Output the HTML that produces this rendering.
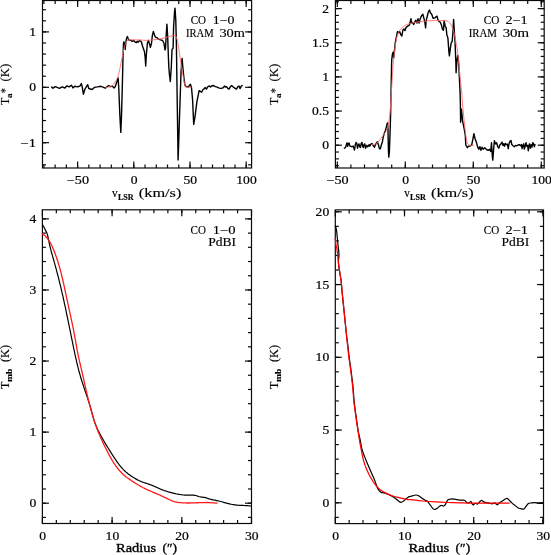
<!DOCTYPE html>
<html><head><meta charset="utf-8"><style>
html,body{margin:0;padding:0;background:#fff;}
body{width:551px;height:555px;overflow:hidden;}
svg{display:block;will-change:transform;font-family:"Liberation Serif",serif;}
</style></head><body>
<svg width="551" height="555" viewBox="0 0 551 555">
<line x1="43.88" y1="168" x2="43.88" y2="164.5" stroke="#0a0a0a" stroke-width="1.2"/>
<line x1="43.88" y1="0.5" x2="43.88" y2="4" stroke="#0a0a0a" stroke-width="1.2"/>
<line x1="55.12" y1="168" x2="55.12" y2="164.5" stroke="#0a0a0a" stroke-width="1.2"/>
<line x1="55.12" y1="0.5" x2="55.12" y2="4" stroke="#0a0a0a" stroke-width="1.2"/>
<line x1="66.36" y1="168" x2="66.36" y2="164.5" stroke="#0a0a0a" stroke-width="1.2"/>
<line x1="66.36" y1="0.5" x2="66.36" y2="4" stroke="#0a0a0a" stroke-width="1.2"/>
<line x1="77.6" y1="168" x2="77.6" y2="164.5" stroke="#0a0a0a" stroke-width="1.2"/>
<line x1="77.6" y1="0.5" x2="77.6" y2="4" stroke="#0a0a0a" stroke-width="1.2"/>
<line x1="88.84" y1="168" x2="88.84" y2="164.5" stroke="#0a0a0a" stroke-width="1.2"/>
<line x1="88.84" y1="0.5" x2="88.84" y2="4" stroke="#0a0a0a" stroke-width="1.2"/>
<line x1="100.08" y1="168" x2="100.08" y2="164.5" stroke="#0a0a0a" stroke-width="1.2"/>
<line x1="100.08" y1="0.5" x2="100.08" y2="4" stroke="#0a0a0a" stroke-width="1.2"/>
<line x1="111.32" y1="168" x2="111.32" y2="164.5" stroke="#0a0a0a" stroke-width="1.2"/>
<line x1="111.32" y1="0.5" x2="111.32" y2="4" stroke="#0a0a0a" stroke-width="1.2"/>
<line x1="122.56" y1="168" x2="122.56" y2="164.5" stroke="#0a0a0a" stroke-width="1.2"/>
<line x1="122.56" y1="0.5" x2="122.56" y2="4" stroke="#0a0a0a" stroke-width="1.2"/>
<line x1="133.8" y1="168" x2="133.8" y2="164.5" stroke="#0a0a0a" stroke-width="1.2"/>
<line x1="133.8" y1="0.5" x2="133.8" y2="4" stroke="#0a0a0a" stroke-width="1.2"/>
<line x1="145.04" y1="168" x2="145.04" y2="164.5" stroke="#0a0a0a" stroke-width="1.2"/>
<line x1="145.04" y1="0.5" x2="145.04" y2="4" stroke="#0a0a0a" stroke-width="1.2"/>
<line x1="156.28" y1="168" x2="156.28" y2="164.5" stroke="#0a0a0a" stroke-width="1.2"/>
<line x1="156.28" y1="0.5" x2="156.28" y2="4" stroke="#0a0a0a" stroke-width="1.2"/>
<line x1="167.52" y1="168" x2="167.52" y2="164.5" stroke="#0a0a0a" stroke-width="1.2"/>
<line x1="167.52" y1="0.5" x2="167.52" y2="4" stroke="#0a0a0a" stroke-width="1.2"/>
<line x1="178.76" y1="168" x2="178.76" y2="164.5" stroke="#0a0a0a" stroke-width="1.2"/>
<line x1="178.76" y1="0.5" x2="178.76" y2="4" stroke="#0a0a0a" stroke-width="1.2"/>
<line x1="190" y1="168" x2="190" y2="164.5" stroke="#0a0a0a" stroke-width="1.2"/>
<line x1="190" y1="0.5" x2="190" y2="4" stroke="#0a0a0a" stroke-width="1.2"/>
<line x1="201.24" y1="168" x2="201.24" y2="164.5" stroke="#0a0a0a" stroke-width="1.2"/>
<line x1="201.24" y1="0.5" x2="201.24" y2="4" stroke="#0a0a0a" stroke-width="1.2"/>
<line x1="212.48" y1="168" x2="212.48" y2="164.5" stroke="#0a0a0a" stroke-width="1.2"/>
<line x1="212.48" y1="0.5" x2="212.48" y2="4" stroke="#0a0a0a" stroke-width="1.2"/>
<line x1="223.72" y1="168" x2="223.72" y2="164.5" stroke="#0a0a0a" stroke-width="1.2"/>
<line x1="223.72" y1="0.5" x2="223.72" y2="4" stroke="#0a0a0a" stroke-width="1.2"/>
<line x1="234.96" y1="168" x2="234.96" y2="164.5" stroke="#0a0a0a" stroke-width="1.2"/>
<line x1="234.96" y1="0.5" x2="234.96" y2="4" stroke="#0a0a0a" stroke-width="1.2"/>
<line x1="246.2" y1="168" x2="246.2" y2="164.5" stroke="#0a0a0a" stroke-width="1.2"/>
<line x1="246.2" y1="0.5" x2="246.2" y2="4" stroke="#0a0a0a" stroke-width="1.2"/>
<line x1="77.6" y1="168" x2="77.6" y2="161.5" stroke="#0a0a0a" stroke-width="1.2"/>
<line x1="77.6" y1="0.5" x2="77.6" y2="7" stroke="#0a0a0a" stroke-width="1.2"/>
<line x1="133.8" y1="168" x2="133.8" y2="161.5" stroke="#0a0a0a" stroke-width="1.2"/>
<line x1="133.8" y1="0.5" x2="133.8" y2="7" stroke="#0a0a0a" stroke-width="1.2"/>
<line x1="190" y1="168" x2="190" y2="161.5" stroke="#0a0a0a" stroke-width="1.2"/>
<line x1="190" y1="0.5" x2="190" y2="7" stroke="#0a0a0a" stroke-width="1.2"/>
<line x1="246.2" y1="168" x2="246.2" y2="161.5" stroke="#0a0a0a" stroke-width="1.2"/>
<line x1="246.2" y1="0.5" x2="246.2" y2="7" stroke="#0a0a0a" stroke-width="1.2"/>
<line x1="42.5" y1="164.86" x2="46" y2="164.86" stroke="#0a0a0a" stroke-width="1.2"/>
<line x1="251.6" y1="164.86" x2="248.1" y2="164.86" stroke="#0a0a0a" stroke-width="1.2"/>
<line x1="42.5" y1="153.78" x2="46" y2="153.78" stroke="#0a0a0a" stroke-width="1.2"/>
<line x1="251.6" y1="153.78" x2="248.1" y2="153.78" stroke="#0a0a0a" stroke-width="1.2"/>
<line x1="42.5" y1="142.7" x2="46" y2="142.7" stroke="#0a0a0a" stroke-width="1.2"/>
<line x1="251.6" y1="142.7" x2="248.1" y2="142.7" stroke="#0a0a0a" stroke-width="1.2"/>
<line x1="42.5" y1="131.62" x2="46" y2="131.62" stroke="#0a0a0a" stroke-width="1.2"/>
<line x1="251.6" y1="131.62" x2="248.1" y2="131.62" stroke="#0a0a0a" stroke-width="1.2"/>
<line x1="42.5" y1="120.54" x2="46" y2="120.54" stroke="#0a0a0a" stroke-width="1.2"/>
<line x1="251.6" y1="120.54" x2="248.1" y2="120.54" stroke="#0a0a0a" stroke-width="1.2"/>
<line x1="42.5" y1="109.46" x2="46" y2="109.46" stroke="#0a0a0a" stroke-width="1.2"/>
<line x1="251.6" y1="109.46" x2="248.1" y2="109.46" stroke="#0a0a0a" stroke-width="1.2"/>
<line x1="42.5" y1="98.38" x2="46" y2="98.38" stroke="#0a0a0a" stroke-width="1.2"/>
<line x1="251.6" y1="98.38" x2="248.1" y2="98.38" stroke="#0a0a0a" stroke-width="1.2"/>
<line x1="42.5" y1="87.3" x2="46" y2="87.3" stroke="#0a0a0a" stroke-width="1.2"/>
<line x1="251.6" y1="87.3" x2="248.1" y2="87.3" stroke="#0a0a0a" stroke-width="1.2"/>
<line x1="42.5" y1="76.22" x2="46" y2="76.22" stroke="#0a0a0a" stroke-width="1.2"/>
<line x1="251.6" y1="76.22" x2="248.1" y2="76.22" stroke="#0a0a0a" stroke-width="1.2"/>
<line x1="42.5" y1="65.14" x2="46" y2="65.14" stroke="#0a0a0a" stroke-width="1.2"/>
<line x1="251.6" y1="65.14" x2="248.1" y2="65.14" stroke="#0a0a0a" stroke-width="1.2"/>
<line x1="42.5" y1="54.06" x2="46" y2="54.06" stroke="#0a0a0a" stroke-width="1.2"/>
<line x1="251.6" y1="54.06" x2="248.1" y2="54.06" stroke="#0a0a0a" stroke-width="1.2"/>
<line x1="42.5" y1="42.98" x2="46" y2="42.98" stroke="#0a0a0a" stroke-width="1.2"/>
<line x1="251.6" y1="42.98" x2="248.1" y2="42.98" stroke="#0a0a0a" stroke-width="1.2"/>
<line x1="42.5" y1="31.9" x2="46" y2="31.9" stroke="#0a0a0a" stroke-width="1.2"/>
<line x1="251.6" y1="31.9" x2="248.1" y2="31.9" stroke="#0a0a0a" stroke-width="1.2"/>
<line x1="42.5" y1="20.82" x2="46" y2="20.82" stroke="#0a0a0a" stroke-width="1.2"/>
<line x1="251.6" y1="20.82" x2="248.1" y2="20.82" stroke="#0a0a0a" stroke-width="1.2"/>
<line x1="42.5" y1="9.74" x2="46" y2="9.74" stroke="#0a0a0a" stroke-width="1.2"/>
<line x1="251.6" y1="9.74" x2="248.1" y2="9.74" stroke="#0a0a0a" stroke-width="1.2"/>
<line x1="42.5" y1="142.7" x2="49" y2="142.7" stroke="#0a0a0a" stroke-width="1.2"/>
<line x1="251.6" y1="142.7" x2="245.1" y2="142.7" stroke="#0a0a0a" stroke-width="1.2"/>
<line x1="42.5" y1="87.3" x2="49" y2="87.3" stroke="#0a0a0a" stroke-width="1.2"/>
<line x1="251.6" y1="87.3" x2="245.1" y2="87.3" stroke="#0a0a0a" stroke-width="1.2"/>
<line x1="42.5" y1="31.9" x2="49" y2="31.9" stroke="#0a0a0a" stroke-width="1.2"/>
<line x1="251.6" y1="31.9" x2="245.1" y2="31.9" stroke="#0a0a0a" stroke-width="1.2"/>
<rect x="42.5" y="0.5" width="209.1" height="167.5" fill="none" stroke="#0a0a0a" stroke-width="1.2"/>
<polyline points="51.6,86.9 52.9,88.3 55.1,86.6 57.2,87.4 59.4,88.3 62.1,86.9 64.9,88 67,85.8 69.2,86.9 71.4,85.2 73,88 74.7,86.3 77.9,86.9 80.1,85.8 81.4,83.6 82.3,87.4 83.4,94.2 85,89 86.6,86.3 87.7,84.7 88.8,88.5 90.5,89 92.1,89.6 94.3,87.4 97.5,86.9 100.8,86.3 101.8,86.7 103.5,87.3 105.3,88.1 107,86.7 108.8,85.5 110.5,86.7 112.3,86.1 114.1,87.9 115.2,86.7 117,81.4 118.1,77.9 118.7,86.7 119.9,116 120.8,132.4 121.5,116 122.3,86.7 122.7,70 123,57 123.5,43.6 124,41.8 124.7,45.4 125.2,49.5 125.9,41.8 126.5,38.6 127.4,36.4 128.3,39.1 129,40 130.9,40.4 132.2,41.3 133.6,40.4 134.9,41.8 136.3,42.7 137.2,41.3 138.1,42.3 139.5,40.4 141.3,41.8 142.6,46.3 144.5,51.8 145.2,58 145.7,66 146.4,54 147.4,43.2 148.4,40.5 149.3,43.2 150.4,47.3 151.5,43.2 152.4,35.1 153.4,31.4 154.5,35.1 155.5,37.2 157.2,37.8 158.5,39.2 160.5,39.9 162.6,40.5 163.9,43.2 165,50 165.5,48.6 166.2,35.1 166.9,24.1 167.6,35.1 168.2,51.4 168.8,67 169.5,75 170.3,81.5 171.3,67 172,49.7 173.1,48.1 173.6,27 174.5,12.2 175,8.1 175.8,20.3 176.4,45 176.9,80 177.5,120 178.1,160 178.8,140 179.4,120 180.1,100 181,72.4 182.1,58.4 182.8,67 183.9,77.8 185,85.4 186.1,86.5 188.2,87 190.4,84.3 191.5,87.6 192.6,100 193.7,124.4 195,116.8 196.9,101.7 198.1,95.9 199.1,90.7 200.7,91.7 201.7,92.2 202.8,89.7 204.3,88.6 205.3,87.6 206.4,89.1 207.9,86.6 209.5,86 210.5,87.1 211.6,86 213.6,85.5 215.2,86.6 217.2,87.1 219.3,88.1 221.4,88.4 223.4,87.6 224.5,86 225.5,87.1 226.6,86.6 227.6,88.1 229.1,89.1 230.2,87.1 231.7,85.5 233.3,87.1 234.8,88.1 236.4,89.1 237.9,86.6 239,86 240,88.6 241,86.6 242.1,85.5" fill="none" stroke="#000" stroke-width="1.4" stroke-linejoin="round" stroke-linecap="round" />
<path d="M105.7,87.3 C105.92,87.3 106,87.5 107,87.3 C108,87.1 110.33,86.98 111.7,86.1 C113.07,85.22 114.43,83.02 115.2,82 C115.97,80.98 115.82,80.97 116.3,80 C116.78,79.03 117.48,78.18 118.1,76.2 C118.72,74.22 119.23,71.72 120,68.1 C120.77,64.48 121.95,58.13 122.7,54.5 C123.45,50.87 123.9,48.42 124.5,46.3 C125.1,44.18 125.7,42.82 126.3,41.8 C126.9,40.78 127.18,40.53 128.1,40.2 C129.02,39.87 129.82,39.83 131.8,39.8 C133.78,39.77 137.8,39.92 140,40 C142.2,40.08 143.03,40.28 145,40.3 C146.97,40.32 149.55,40.28 151.8,40.1 C154.05,39.92 156.25,39.62 158.5,39.2 C160.75,38.78 163.05,38.17 165.3,37.6 C167.55,37.03 170.53,36.17 172,35.8 C173.47,35.43 173.47,35.28 174.1,35.4 C174.73,35.52 175.25,35.65 175.8,36.5 C176.35,37.35 176.85,38.12 177.4,40.5 C177.95,42.88 178.47,46.73 179.1,50.8 C179.73,54.87 180.48,60.4 181.2,64.9 C181.92,69.4 182.77,74.3 183.4,77.8 C184.03,81.3 184.47,84.37 185,85.9 C185.53,87.43 185.6,86.72 186.6,87 C187.6,87.28 190.27,87.5 191,87.6" fill="none" stroke="#ff6a6a" stroke-width="0.9" stroke-linejoin="round" stroke-linecap="round" />
<text x="77.9" y="184.3" font-size="11.8" text-anchor="middle" font-weight="normal" textLength="22.2" lengthAdjust="spacingAndGlyphs" stroke="#000" stroke-width="0.2">&#8722;50</text>
<text x="134.1" y="184.3" font-size="11.8" text-anchor="middle" font-weight="normal" textLength="6.8" lengthAdjust="spacingAndGlyphs" stroke="#000" stroke-width="0.2">0</text>
<text x="190.3" y="184.3" font-size="11.8" text-anchor="middle" font-weight="normal" textLength="13.6" lengthAdjust="spacingAndGlyphs" stroke="#000" stroke-width="0.2">50</text>
<text x="246.5" y="184.3" font-size="11.8" text-anchor="middle" font-weight="normal" textLength="20.4" lengthAdjust="spacingAndGlyphs" stroke="#000" stroke-width="0.2">100</text>
<text x="36" y="36" font-size="11.8" text-anchor="end" font-weight="normal" textLength="6.8" lengthAdjust="spacingAndGlyphs" stroke="#000" stroke-width="0.2">1</text>
<text x="36" y="91.4" font-size="11.8" text-anchor="end" font-weight="normal" textLength="6.8" lengthAdjust="spacingAndGlyphs" stroke="#000" stroke-width="0.2">0</text>
<text x="36" y="146.8" font-size="11.8" text-anchor="end" font-weight="normal" textLength="15.4" lengthAdjust="spacingAndGlyphs" stroke="#000" stroke-width="0.2">&#8722;1</text>
<line x1="337.3" y1="168" x2="337.3" y2="164.5" stroke="#0a0a0a" stroke-width="1.2"/>
<line x1="337.3" y1="0.5" x2="337.3" y2="4" stroke="#0a0a0a" stroke-width="1.2"/>
<line x1="350.9" y1="168" x2="350.9" y2="164.5" stroke="#0a0a0a" stroke-width="1.2"/>
<line x1="350.9" y1="0.5" x2="350.9" y2="4" stroke="#0a0a0a" stroke-width="1.2"/>
<line x1="364.5" y1="168" x2="364.5" y2="164.5" stroke="#0a0a0a" stroke-width="1.2"/>
<line x1="364.5" y1="0.5" x2="364.5" y2="4" stroke="#0a0a0a" stroke-width="1.2"/>
<line x1="378.1" y1="168" x2="378.1" y2="164.5" stroke="#0a0a0a" stroke-width="1.2"/>
<line x1="378.1" y1="0.5" x2="378.1" y2="4" stroke="#0a0a0a" stroke-width="1.2"/>
<line x1="391.7" y1="168" x2="391.7" y2="164.5" stroke="#0a0a0a" stroke-width="1.2"/>
<line x1="391.7" y1="0.5" x2="391.7" y2="4" stroke="#0a0a0a" stroke-width="1.2"/>
<line x1="405.3" y1="168" x2="405.3" y2="164.5" stroke="#0a0a0a" stroke-width="1.2"/>
<line x1="405.3" y1="0.5" x2="405.3" y2="4" stroke="#0a0a0a" stroke-width="1.2"/>
<line x1="418.9" y1="168" x2="418.9" y2="164.5" stroke="#0a0a0a" stroke-width="1.2"/>
<line x1="418.9" y1="0.5" x2="418.9" y2="4" stroke="#0a0a0a" stroke-width="1.2"/>
<line x1="432.5" y1="168" x2="432.5" y2="164.5" stroke="#0a0a0a" stroke-width="1.2"/>
<line x1="432.5" y1="0.5" x2="432.5" y2="4" stroke="#0a0a0a" stroke-width="1.2"/>
<line x1="446.1" y1="168" x2="446.1" y2="164.5" stroke="#0a0a0a" stroke-width="1.2"/>
<line x1="446.1" y1="0.5" x2="446.1" y2="4" stroke="#0a0a0a" stroke-width="1.2"/>
<line x1="459.7" y1="168" x2="459.7" y2="164.5" stroke="#0a0a0a" stroke-width="1.2"/>
<line x1="459.7" y1="0.5" x2="459.7" y2="4" stroke="#0a0a0a" stroke-width="1.2"/>
<line x1="473.3" y1="168" x2="473.3" y2="164.5" stroke="#0a0a0a" stroke-width="1.2"/>
<line x1="473.3" y1="0.5" x2="473.3" y2="4" stroke="#0a0a0a" stroke-width="1.2"/>
<line x1="486.9" y1="168" x2="486.9" y2="164.5" stroke="#0a0a0a" stroke-width="1.2"/>
<line x1="486.9" y1="0.5" x2="486.9" y2="4" stroke="#0a0a0a" stroke-width="1.2"/>
<line x1="500.5" y1="168" x2="500.5" y2="164.5" stroke="#0a0a0a" stroke-width="1.2"/>
<line x1="500.5" y1="0.5" x2="500.5" y2="4" stroke="#0a0a0a" stroke-width="1.2"/>
<line x1="514.1" y1="168" x2="514.1" y2="164.5" stroke="#0a0a0a" stroke-width="1.2"/>
<line x1="514.1" y1="0.5" x2="514.1" y2="4" stroke="#0a0a0a" stroke-width="1.2"/>
<line x1="527.7" y1="168" x2="527.7" y2="164.5" stroke="#0a0a0a" stroke-width="1.2"/>
<line x1="527.7" y1="0.5" x2="527.7" y2="4" stroke="#0a0a0a" stroke-width="1.2"/>
<line x1="541.3" y1="168" x2="541.3" y2="164.5" stroke="#0a0a0a" stroke-width="1.2"/>
<line x1="541.3" y1="0.5" x2="541.3" y2="4" stroke="#0a0a0a" stroke-width="1.2"/>
<line x1="337.3" y1="168" x2="337.3" y2="161.5" stroke="#0a0a0a" stroke-width="1.2"/>
<line x1="337.3" y1="0.5" x2="337.3" y2="7" stroke="#0a0a0a" stroke-width="1.2"/>
<line x1="405.3" y1="168" x2="405.3" y2="161.5" stroke="#0a0a0a" stroke-width="1.2"/>
<line x1="405.3" y1="0.5" x2="405.3" y2="7" stroke="#0a0a0a" stroke-width="1.2"/>
<line x1="473.3" y1="168" x2="473.3" y2="161.5" stroke="#0a0a0a" stroke-width="1.2"/>
<line x1="473.3" y1="0.5" x2="473.3" y2="7" stroke="#0a0a0a" stroke-width="1.2"/>
<line x1="541.3" y1="168" x2="541.3" y2="161.5" stroke="#0a0a0a" stroke-width="1.2"/>
<line x1="541.3" y1="0.5" x2="541.3" y2="7" stroke="#0a0a0a" stroke-width="1.2"/>
<line x1="335.4" y1="165.69" x2="338.9" y2="165.69" stroke="#0a0a0a" stroke-width="1.2"/>
<line x1="544.2" y1="165.69" x2="540.7" y2="165.69" stroke="#0a0a0a" stroke-width="1.2"/>
<line x1="335.4" y1="158.86" x2="338.9" y2="158.86" stroke="#0a0a0a" stroke-width="1.2"/>
<line x1="544.2" y1="158.86" x2="540.7" y2="158.86" stroke="#0a0a0a" stroke-width="1.2"/>
<line x1="335.4" y1="152.03" x2="338.9" y2="152.03" stroke="#0a0a0a" stroke-width="1.2"/>
<line x1="544.2" y1="152.03" x2="540.7" y2="152.03" stroke="#0a0a0a" stroke-width="1.2"/>
<line x1="335.4" y1="145.2" x2="338.9" y2="145.2" stroke="#0a0a0a" stroke-width="1.2"/>
<line x1="544.2" y1="145.2" x2="540.7" y2="145.2" stroke="#0a0a0a" stroke-width="1.2"/>
<line x1="335.4" y1="138.37" x2="338.9" y2="138.37" stroke="#0a0a0a" stroke-width="1.2"/>
<line x1="544.2" y1="138.37" x2="540.7" y2="138.37" stroke="#0a0a0a" stroke-width="1.2"/>
<line x1="335.4" y1="131.54" x2="338.9" y2="131.54" stroke="#0a0a0a" stroke-width="1.2"/>
<line x1="544.2" y1="131.54" x2="540.7" y2="131.54" stroke="#0a0a0a" stroke-width="1.2"/>
<line x1="335.4" y1="124.71" x2="338.9" y2="124.71" stroke="#0a0a0a" stroke-width="1.2"/>
<line x1="544.2" y1="124.71" x2="540.7" y2="124.71" stroke="#0a0a0a" stroke-width="1.2"/>
<line x1="335.4" y1="117.88" x2="338.9" y2="117.88" stroke="#0a0a0a" stroke-width="1.2"/>
<line x1="544.2" y1="117.88" x2="540.7" y2="117.88" stroke="#0a0a0a" stroke-width="1.2"/>
<line x1="335.4" y1="111.05" x2="338.9" y2="111.05" stroke="#0a0a0a" stroke-width="1.2"/>
<line x1="544.2" y1="111.05" x2="540.7" y2="111.05" stroke="#0a0a0a" stroke-width="1.2"/>
<line x1="335.4" y1="104.22" x2="338.9" y2="104.22" stroke="#0a0a0a" stroke-width="1.2"/>
<line x1="544.2" y1="104.22" x2="540.7" y2="104.22" stroke="#0a0a0a" stroke-width="1.2"/>
<line x1="335.4" y1="97.39" x2="338.9" y2="97.39" stroke="#0a0a0a" stroke-width="1.2"/>
<line x1="544.2" y1="97.39" x2="540.7" y2="97.39" stroke="#0a0a0a" stroke-width="1.2"/>
<line x1="335.4" y1="90.56" x2="338.9" y2="90.56" stroke="#0a0a0a" stroke-width="1.2"/>
<line x1="544.2" y1="90.56" x2="540.7" y2="90.56" stroke="#0a0a0a" stroke-width="1.2"/>
<line x1="335.4" y1="83.73" x2="338.9" y2="83.73" stroke="#0a0a0a" stroke-width="1.2"/>
<line x1="544.2" y1="83.73" x2="540.7" y2="83.73" stroke="#0a0a0a" stroke-width="1.2"/>
<line x1="335.4" y1="76.9" x2="338.9" y2="76.9" stroke="#0a0a0a" stroke-width="1.2"/>
<line x1="544.2" y1="76.9" x2="540.7" y2="76.9" stroke="#0a0a0a" stroke-width="1.2"/>
<line x1="335.4" y1="70.07" x2="338.9" y2="70.07" stroke="#0a0a0a" stroke-width="1.2"/>
<line x1="544.2" y1="70.07" x2="540.7" y2="70.07" stroke="#0a0a0a" stroke-width="1.2"/>
<line x1="335.4" y1="63.24" x2="338.9" y2="63.24" stroke="#0a0a0a" stroke-width="1.2"/>
<line x1="544.2" y1="63.24" x2="540.7" y2="63.24" stroke="#0a0a0a" stroke-width="1.2"/>
<line x1="335.4" y1="56.41" x2="338.9" y2="56.41" stroke="#0a0a0a" stroke-width="1.2"/>
<line x1="544.2" y1="56.41" x2="540.7" y2="56.41" stroke="#0a0a0a" stroke-width="1.2"/>
<line x1="335.4" y1="49.58" x2="338.9" y2="49.58" stroke="#0a0a0a" stroke-width="1.2"/>
<line x1="544.2" y1="49.58" x2="540.7" y2="49.58" stroke="#0a0a0a" stroke-width="1.2"/>
<line x1="335.4" y1="42.75" x2="338.9" y2="42.75" stroke="#0a0a0a" stroke-width="1.2"/>
<line x1="544.2" y1="42.75" x2="540.7" y2="42.75" stroke="#0a0a0a" stroke-width="1.2"/>
<line x1="335.4" y1="35.92" x2="338.9" y2="35.92" stroke="#0a0a0a" stroke-width="1.2"/>
<line x1="544.2" y1="35.92" x2="540.7" y2="35.92" stroke="#0a0a0a" stroke-width="1.2"/>
<line x1="335.4" y1="29.09" x2="338.9" y2="29.09" stroke="#0a0a0a" stroke-width="1.2"/>
<line x1="544.2" y1="29.09" x2="540.7" y2="29.09" stroke="#0a0a0a" stroke-width="1.2"/>
<line x1="335.4" y1="22.26" x2="338.9" y2="22.26" stroke="#0a0a0a" stroke-width="1.2"/>
<line x1="544.2" y1="22.26" x2="540.7" y2="22.26" stroke="#0a0a0a" stroke-width="1.2"/>
<line x1="335.4" y1="15.43" x2="338.9" y2="15.43" stroke="#0a0a0a" stroke-width="1.2"/>
<line x1="544.2" y1="15.43" x2="540.7" y2="15.43" stroke="#0a0a0a" stroke-width="1.2"/>
<line x1="335.4" y1="8.6" x2="338.9" y2="8.6" stroke="#0a0a0a" stroke-width="1.2"/>
<line x1="544.2" y1="8.6" x2="540.7" y2="8.6" stroke="#0a0a0a" stroke-width="1.2"/>
<line x1="335.4" y1="1.77" x2="338.9" y2="1.77" stroke="#0a0a0a" stroke-width="1.2"/>
<line x1="544.2" y1="1.77" x2="540.7" y2="1.77" stroke="#0a0a0a" stroke-width="1.2"/>
<line x1="335.4" y1="145.2" x2="341.9" y2="145.2" stroke="#0a0a0a" stroke-width="1.2"/>
<line x1="544.2" y1="145.2" x2="537.7" y2="145.2" stroke="#0a0a0a" stroke-width="1.2"/>
<line x1="335.4" y1="111.05" x2="341.9" y2="111.05" stroke="#0a0a0a" stroke-width="1.2"/>
<line x1="544.2" y1="111.05" x2="537.7" y2="111.05" stroke="#0a0a0a" stroke-width="1.2"/>
<line x1="335.4" y1="76.9" x2="341.9" y2="76.9" stroke="#0a0a0a" stroke-width="1.2"/>
<line x1="544.2" y1="76.9" x2="537.7" y2="76.9" stroke="#0a0a0a" stroke-width="1.2"/>
<line x1="335.4" y1="42.75" x2="341.9" y2="42.75" stroke="#0a0a0a" stroke-width="1.2"/>
<line x1="544.2" y1="42.75" x2="537.7" y2="42.75" stroke="#0a0a0a" stroke-width="1.2"/>
<line x1="335.4" y1="8.6" x2="341.9" y2="8.6" stroke="#0a0a0a" stroke-width="1.2"/>
<line x1="544.2" y1="8.6" x2="537.7" y2="8.6" stroke="#0a0a0a" stroke-width="1.2"/>
<rect x="335.4" y="0.5" width="208.8" height="167.5" fill="none" stroke="#0a0a0a" stroke-width="1.2"/>
<polyline points="344.4,148.2 345.5,147.5 346.3,145 347,142.8 347.7,146.4 348.4,143.5 349.2,143.1 349.9,146.1 351,146.4 352.1,146.8 353.1,146.1 353.9,148.2 354.5,150 355.2,145.3 356.1,142.4 356.8,143.5 357.5,148.2 358.2,145.3 359,143.9 359.7,146.8 360.4,147.5 361.1,143.9 361.9,142.4 362.6,146.1 363.3,147.5 364,144.6 364.8,143.9 365.5,148.2 366.2,146.8 366.9,145.3 367.7,146.8 368.4,146.1 369.1,144.6 369.8,146.1 370.9,144.2 372,143.5 372.9,145.2 374.4,147.2 375.9,143.7 377.4,141.7 378.4,144.7 379.4,148.7 380.4,148.7 381.4,144.7 382.4,141.7 383.3,136.8 384.3,133.3 385.3,130.8 386.3,127.8 387,123.9 387.6,122.9 388,129.8 388.4,149.7 388.8,157.1 389.4,151.6 390,134.8 390.6,115 391.2,83.5 391.7,60 392.4,54.4 393.1,52.2 393.7,57.6 394.2,53.3 395.3,42.5 396.4,37.1 397.4,31.6 398.5,32.7 399.6,31.6 400.7,34.4 401.8,36 402.9,30 403.9,28.9 405,30.6 406.1,27.3 407.7,26.2 409.4,25.2 411,18.7 411.5,23 412.6,22.4 413.7,24.6 414.8,21.9 415.8,20.3 416.9,23 418,18.7 419.1,23 420.2,18.7 421.8,15.4 422.9,14.3 424,18.7 424.8,21.9 425.6,27.9 426.1,20.8 427.2,16.5 428.3,12.2 429.4,10 430.5,13 431.6,14.1 433.2,18.4 434.9,17.9 436,16.8 437,16.2 437.8,19.5 439.2,21.6 440.3,22.2 441.4,24.9 442.4,29.2 443.5,30.3 444.1,20.6 445.2,26 446.2,28.1 446.8,34.6 447.9,37.9 448.9,51.9 449.4,55.8 450.3,48.7 451.1,43.3 452.2,41.1 452.9,32.5 453.6,19.5 454.4,32.5 455.1,43.3 455.8,60.8 456.1,72.7 456.9,60.8 457.8,55.4 458.5,60.8 459.1,71.6 460.1,93.2 460.4,105 460.6,122.3 461.5,109.3 462.6,121.2 464.2,128.8 465.3,135.3 465.8,145 467.4,147.7 468.5,146.1 470.1,146.1 471.7,145 472.8,139.6 473.9,133.6 475,138.5 476.6,142.8 477.7,147.1 478.8,149.3 479.9,146.6 480.9,150.4 482,147.1 483.1,149.3 484.7,147.7 486.3,149.3 488,150.4 489.6,149.3 490.7,151.5 491.5,142.8 492.3,155.8 492.8,160.1 493.7,148.2 494.4,140.7 495.5,143.9 496.6,142.8 497.7,146.6 498.8,148.2 499.8,145 500.9,143.9 502,142.2 502.9,145.4 503.7,143.8 504.5,146.2 505.3,143.4 506.1,144.6 507.4,144.2 508.2,148.7 509,143.8 510,141.3 511,140.5 511.8,144.6 513.1,145.8 514.3,146.7 515.5,145.4 516.7,145.8 518,145 519.2,144.6 520.4,145.8 521.4,144.6 522.1,148.7 522.9,145.4 523.7,143.8 524.3,149.1 525.2,146.2 526,142.6 526.8,146.2 527.6,145.4 528.3,150.7 529,145.4 529.6,143.8 530.4,148.3 531.2,144.6 532,147.1 532.8,142.6 533.7,143.8 534.3,146.7 535,144.6" fill="none" stroke="#000" stroke-width="1.4" stroke-linejoin="round" stroke-linecap="round" />
<path d="M372,144.6 C372.55,144.5 374.3,144.43 375.3,144 C376.3,143.57 377.1,142.92 378,142 C378.9,141.08 379.7,139.8 380.7,138.5 C381.7,137.2 383,135.65 384,134.2 C385,132.75 385.9,131.92 386.7,129.8 C387.5,127.68 388.25,124.33 388.8,121.5 C389.35,118.67 389.6,117.18 390,112.8 C390.4,108.42 390.82,101.07 391.2,95.2 C391.58,89.33 391.95,83.13 392.3,77.6 C392.65,72.07 392.98,65.68 393.3,62 C393.62,58.32 393.87,58.22 394.2,55.5 C394.53,52.78 394.85,48.77 395.3,45.7 C395.75,42.63 396.27,39.45 396.9,37.1 C397.53,34.75 398.2,33.23 399.1,31.6 C400,29.97 401.05,28.47 402.3,27.3 C403.55,26.13 404.97,25.32 406.6,24.6 C408.23,23.88 410.28,23.45 412.1,23 C413.92,22.55 415.7,22.17 417.5,21.9 C419.3,21.63 421.1,21.58 422.9,21.4 C424.7,21.22 426.42,20.95 428.3,20.8 C430.18,20.65 432.12,20.53 434.2,20.5 C436.28,20.47 438.97,20.58 440.8,20.6 C442.63,20.62 443.93,20.43 445.2,20.6 C446.47,20.77 447.42,20.88 448.4,21.6 C449.38,22.32 450.28,23.45 451.1,24.9 C451.92,26.35 452.67,28.32 453.3,30.3 C453.93,32.28 454.37,34.27 454.9,36.8 C455.43,39.33 456.08,43.3 456.5,45.5 C456.92,47.7 457.07,47.45 457.4,50 C457.73,52.55 458.05,56.3 458.5,60.8 C458.95,65.3 459.55,71.6 460.1,77 C460.65,82.4 461.38,88.53 461.8,93.2 C462.22,97.87 462.2,100.33 462.6,105 C463,109.67 463.67,116.15 464.2,121.2 C464.73,126.25 465.27,131.7 465.8,135.3 C466.33,138.9 466.77,141.18 467.4,142.8 C468.03,144.42 468.6,144.55 469.6,145 C470.6,145.45 472.77,145.42 473.4,145.5" fill="none" stroke="#ff6a6a" stroke-width="0.9" stroke-linejoin="round" stroke-linecap="round" />
<text x="337.6" y="184.3" font-size="11.8" text-anchor="middle" font-weight="normal" textLength="22.2" lengthAdjust="spacingAndGlyphs" stroke="#000" stroke-width="0.2">&#8722;50</text>
<text x="405.6" y="184.3" font-size="11.8" text-anchor="middle" font-weight="normal" textLength="6.8" lengthAdjust="spacingAndGlyphs" stroke="#000" stroke-width="0.2">0</text>
<text x="473.6" y="184.3" font-size="11.8" text-anchor="middle" font-weight="normal" textLength="13.6" lengthAdjust="spacingAndGlyphs" stroke="#000" stroke-width="0.2">50</text>
<text x="541.6" y="184.3" font-size="11.8" text-anchor="middle" font-weight="normal" textLength="20.4" lengthAdjust="spacingAndGlyphs" stroke="#000" stroke-width="0.2">100</text>
<text x="329" y="12.7" font-size="11.8" text-anchor="end" font-weight="normal" textLength="6.8" lengthAdjust="spacingAndGlyphs" stroke="#000" stroke-width="0.2">2</text>
<text x="329" y="46.85" font-size="11.8" text-anchor="end" font-weight="normal" textLength="17" lengthAdjust="spacingAndGlyphs" stroke="#000" stroke-width="0.2">1.5</text>
<text x="329" y="81" font-size="11.8" text-anchor="end" font-weight="normal" textLength="6.8" lengthAdjust="spacingAndGlyphs" stroke="#000" stroke-width="0.2">1</text>
<text x="329" y="115.15" font-size="11.8" text-anchor="end" font-weight="normal" textLength="17" lengthAdjust="spacingAndGlyphs" stroke="#000" stroke-width="0.2">0.5</text>
<text x="329" y="149.3" font-size="11.8" text-anchor="end" font-weight="normal" textLength="6.8" lengthAdjust="spacingAndGlyphs" stroke="#000" stroke-width="0.2">0</text>
<line x1="56.34" y1="523.5" x2="56.34" y2="520" stroke="#0a0a0a" stroke-width="1.2"/>
<line x1="56.34" y1="209.8" x2="56.34" y2="213.3" stroke="#0a0a0a" stroke-width="1.2"/>
<line x1="70.28" y1="523.5" x2="70.28" y2="520" stroke="#0a0a0a" stroke-width="1.2"/>
<line x1="70.28" y1="209.8" x2="70.28" y2="213.3" stroke="#0a0a0a" stroke-width="1.2"/>
<line x1="84.22" y1="523.5" x2="84.22" y2="520" stroke="#0a0a0a" stroke-width="1.2"/>
<line x1="84.22" y1="209.8" x2="84.22" y2="213.3" stroke="#0a0a0a" stroke-width="1.2"/>
<line x1="98.16" y1="523.5" x2="98.16" y2="520" stroke="#0a0a0a" stroke-width="1.2"/>
<line x1="98.16" y1="209.8" x2="98.16" y2="213.3" stroke="#0a0a0a" stroke-width="1.2"/>
<line x1="112.1" y1="523.5" x2="112.1" y2="520" stroke="#0a0a0a" stroke-width="1.2"/>
<line x1="112.1" y1="209.8" x2="112.1" y2="213.3" stroke="#0a0a0a" stroke-width="1.2"/>
<line x1="126.04" y1="523.5" x2="126.04" y2="520" stroke="#0a0a0a" stroke-width="1.2"/>
<line x1="126.04" y1="209.8" x2="126.04" y2="213.3" stroke="#0a0a0a" stroke-width="1.2"/>
<line x1="139.98" y1="523.5" x2="139.98" y2="520" stroke="#0a0a0a" stroke-width="1.2"/>
<line x1="139.98" y1="209.8" x2="139.98" y2="213.3" stroke="#0a0a0a" stroke-width="1.2"/>
<line x1="153.92" y1="523.5" x2="153.92" y2="520" stroke="#0a0a0a" stroke-width="1.2"/>
<line x1="153.92" y1="209.8" x2="153.92" y2="213.3" stroke="#0a0a0a" stroke-width="1.2"/>
<line x1="167.86" y1="523.5" x2="167.86" y2="520" stroke="#0a0a0a" stroke-width="1.2"/>
<line x1="167.86" y1="209.8" x2="167.86" y2="213.3" stroke="#0a0a0a" stroke-width="1.2"/>
<line x1="181.8" y1="523.5" x2="181.8" y2="520" stroke="#0a0a0a" stroke-width="1.2"/>
<line x1="181.8" y1="209.8" x2="181.8" y2="213.3" stroke="#0a0a0a" stroke-width="1.2"/>
<line x1="195.74" y1="523.5" x2="195.74" y2="520" stroke="#0a0a0a" stroke-width="1.2"/>
<line x1="195.74" y1="209.8" x2="195.74" y2="213.3" stroke="#0a0a0a" stroke-width="1.2"/>
<line x1="209.68" y1="523.5" x2="209.68" y2="520" stroke="#0a0a0a" stroke-width="1.2"/>
<line x1="209.68" y1="209.8" x2="209.68" y2="213.3" stroke="#0a0a0a" stroke-width="1.2"/>
<line x1="223.62" y1="523.5" x2="223.62" y2="520" stroke="#0a0a0a" stroke-width="1.2"/>
<line x1="223.62" y1="209.8" x2="223.62" y2="213.3" stroke="#0a0a0a" stroke-width="1.2"/>
<line x1="237.56" y1="523.5" x2="237.56" y2="520" stroke="#0a0a0a" stroke-width="1.2"/>
<line x1="237.56" y1="209.8" x2="237.56" y2="213.3" stroke="#0a0a0a" stroke-width="1.2"/>
<line x1="42.4" y1="523.5" x2="42.4" y2="517" stroke="#0a0a0a" stroke-width="1.2"/>
<line x1="42.4" y1="209.8" x2="42.4" y2="216.3" stroke="#0a0a0a" stroke-width="1.2"/>
<line x1="112.1" y1="523.5" x2="112.1" y2="517" stroke="#0a0a0a" stroke-width="1.2"/>
<line x1="112.1" y1="209.8" x2="112.1" y2="216.3" stroke="#0a0a0a" stroke-width="1.2"/>
<line x1="181.8" y1="523.5" x2="181.8" y2="517" stroke="#0a0a0a" stroke-width="1.2"/>
<line x1="181.8" y1="209.8" x2="181.8" y2="216.3" stroke="#0a0a0a" stroke-width="1.2"/>
<line x1="251.5" y1="523.5" x2="251.5" y2="517" stroke="#0a0a0a" stroke-width="1.2"/>
<line x1="251.5" y1="209.8" x2="251.5" y2="216.3" stroke="#0a0a0a" stroke-width="1.2"/>
<line x1="42.4" y1="517.42" x2="45.9" y2="517.42" stroke="#0a0a0a" stroke-width="1.2"/>
<line x1="251.5" y1="517.42" x2="248" y2="517.42" stroke="#0a0a0a" stroke-width="1.2"/>
<line x1="42.4" y1="503.2" x2="45.9" y2="503.2" stroke="#0a0a0a" stroke-width="1.2"/>
<line x1="251.5" y1="503.2" x2="248" y2="503.2" stroke="#0a0a0a" stroke-width="1.2"/>
<line x1="42.4" y1="488.98" x2="45.9" y2="488.98" stroke="#0a0a0a" stroke-width="1.2"/>
<line x1="251.5" y1="488.98" x2="248" y2="488.98" stroke="#0a0a0a" stroke-width="1.2"/>
<line x1="42.4" y1="474.77" x2="45.9" y2="474.77" stroke="#0a0a0a" stroke-width="1.2"/>
<line x1="251.5" y1="474.77" x2="248" y2="474.77" stroke="#0a0a0a" stroke-width="1.2"/>
<line x1="42.4" y1="460.55" x2="45.9" y2="460.55" stroke="#0a0a0a" stroke-width="1.2"/>
<line x1="251.5" y1="460.55" x2="248" y2="460.55" stroke="#0a0a0a" stroke-width="1.2"/>
<line x1="42.4" y1="446.34" x2="45.9" y2="446.34" stroke="#0a0a0a" stroke-width="1.2"/>
<line x1="251.5" y1="446.34" x2="248" y2="446.34" stroke="#0a0a0a" stroke-width="1.2"/>
<line x1="42.4" y1="432.12" x2="45.9" y2="432.12" stroke="#0a0a0a" stroke-width="1.2"/>
<line x1="251.5" y1="432.12" x2="248" y2="432.12" stroke="#0a0a0a" stroke-width="1.2"/>
<line x1="42.4" y1="417.9" x2="45.9" y2="417.9" stroke="#0a0a0a" stroke-width="1.2"/>
<line x1="251.5" y1="417.9" x2="248" y2="417.9" stroke="#0a0a0a" stroke-width="1.2"/>
<line x1="42.4" y1="403.69" x2="45.9" y2="403.69" stroke="#0a0a0a" stroke-width="1.2"/>
<line x1="251.5" y1="403.69" x2="248" y2="403.69" stroke="#0a0a0a" stroke-width="1.2"/>
<line x1="42.4" y1="389.47" x2="45.9" y2="389.47" stroke="#0a0a0a" stroke-width="1.2"/>
<line x1="251.5" y1="389.47" x2="248" y2="389.47" stroke="#0a0a0a" stroke-width="1.2"/>
<line x1="42.4" y1="375.26" x2="45.9" y2="375.26" stroke="#0a0a0a" stroke-width="1.2"/>
<line x1="251.5" y1="375.26" x2="248" y2="375.26" stroke="#0a0a0a" stroke-width="1.2"/>
<line x1="42.4" y1="361.04" x2="45.9" y2="361.04" stroke="#0a0a0a" stroke-width="1.2"/>
<line x1="251.5" y1="361.04" x2="248" y2="361.04" stroke="#0a0a0a" stroke-width="1.2"/>
<line x1="42.4" y1="346.82" x2="45.9" y2="346.82" stroke="#0a0a0a" stroke-width="1.2"/>
<line x1="251.5" y1="346.82" x2="248" y2="346.82" stroke="#0a0a0a" stroke-width="1.2"/>
<line x1="42.4" y1="332.61" x2="45.9" y2="332.61" stroke="#0a0a0a" stroke-width="1.2"/>
<line x1="251.5" y1="332.61" x2="248" y2="332.61" stroke="#0a0a0a" stroke-width="1.2"/>
<line x1="42.4" y1="318.39" x2="45.9" y2="318.39" stroke="#0a0a0a" stroke-width="1.2"/>
<line x1="251.5" y1="318.39" x2="248" y2="318.39" stroke="#0a0a0a" stroke-width="1.2"/>
<line x1="42.4" y1="304.18" x2="45.9" y2="304.18" stroke="#0a0a0a" stroke-width="1.2"/>
<line x1="251.5" y1="304.18" x2="248" y2="304.18" stroke="#0a0a0a" stroke-width="1.2"/>
<line x1="42.4" y1="289.96" x2="45.9" y2="289.96" stroke="#0a0a0a" stroke-width="1.2"/>
<line x1="251.5" y1="289.96" x2="248" y2="289.96" stroke="#0a0a0a" stroke-width="1.2"/>
<line x1="42.4" y1="275.74" x2="45.9" y2="275.74" stroke="#0a0a0a" stroke-width="1.2"/>
<line x1="251.5" y1="275.74" x2="248" y2="275.74" stroke="#0a0a0a" stroke-width="1.2"/>
<line x1="42.4" y1="261.53" x2="45.9" y2="261.53" stroke="#0a0a0a" stroke-width="1.2"/>
<line x1="251.5" y1="261.53" x2="248" y2="261.53" stroke="#0a0a0a" stroke-width="1.2"/>
<line x1="42.4" y1="247.31" x2="45.9" y2="247.31" stroke="#0a0a0a" stroke-width="1.2"/>
<line x1="251.5" y1="247.31" x2="248" y2="247.31" stroke="#0a0a0a" stroke-width="1.2"/>
<line x1="42.4" y1="233.1" x2="45.9" y2="233.1" stroke="#0a0a0a" stroke-width="1.2"/>
<line x1="251.5" y1="233.1" x2="248" y2="233.1" stroke="#0a0a0a" stroke-width="1.2"/>
<line x1="42.4" y1="218.88" x2="45.9" y2="218.88" stroke="#0a0a0a" stroke-width="1.2"/>
<line x1="251.5" y1="218.88" x2="248" y2="218.88" stroke="#0a0a0a" stroke-width="1.2"/>
<line x1="42.4" y1="503.2" x2="48.9" y2="503.2" stroke="#0a0a0a" stroke-width="1.2"/>
<line x1="251.5" y1="503.2" x2="245" y2="503.2" stroke="#0a0a0a" stroke-width="1.2"/>
<line x1="42.4" y1="432.12" x2="48.9" y2="432.12" stroke="#0a0a0a" stroke-width="1.2"/>
<line x1="251.5" y1="432.12" x2="245" y2="432.12" stroke="#0a0a0a" stroke-width="1.2"/>
<line x1="42.4" y1="361.04" x2="48.9" y2="361.04" stroke="#0a0a0a" stroke-width="1.2"/>
<line x1="251.5" y1="361.04" x2="245" y2="361.04" stroke="#0a0a0a" stroke-width="1.2"/>
<line x1="42.4" y1="289.96" x2="48.9" y2="289.96" stroke="#0a0a0a" stroke-width="1.2"/>
<line x1="251.5" y1="289.96" x2="245" y2="289.96" stroke="#0a0a0a" stroke-width="1.2"/>
<line x1="42.4" y1="218.88" x2="48.9" y2="218.88" stroke="#0a0a0a" stroke-width="1.2"/>
<line x1="251.5" y1="218.88" x2="245" y2="218.88" stroke="#0a0a0a" stroke-width="1.2"/>
<rect x="42.4" y="209.8" width="209.1" height="313.7" fill="none" stroke="#0a0a0a" stroke-width="1.2"/>
<polyline points="42.6,224.8 44,227.2 45.3,229.9 46.7,232.6 47.5,234.8 48.3,238.5 48.51,239.58 48.69,240.54 48.88,241.49 49.08,242.45 49.28,243.4 49.5,244.36 49.72,245.32 49.95,246.28 50.18,247.23 50.42,248.19 50.67,249.15 50.92,250.11 51.17,251.07 51.43,252.04 51.69,253 51.96,253.96 52.22,254.92 52.49,255.89 52.76,256.85 53.04,257.81 53.31,258.78 53.59,259.74 53.86,260.71 54.13,261.68 54.41,262.64 54.68,263.61 54.95,264.58 55.22,265.55 55.48,266.51 55.75,267.48 56.01,268.45 56.27,269.42 56.53,270.39 56.79,271.36 57.05,272.33 57.3,273.3 57.56,274.27 57.81,275.25 58.06,276.22 58.31,277.19 58.55,278.16 58.8,279.14 59.04,280.11 59.28,281.08 59.52,282.06 59.76,283.03 60,284.01 60.24,284.98 60.47,285.96 60.71,286.93 60.94,287.91 61.17,288.88 61.4,289.86 61.63,290.83 61.85,291.81 62.08,292.79 62.3,293.76 62.53,294.74 62.75,295.72 62.97,296.69 63.19,297.67 63.41,298.65 63.62,299.63 63.84,300.6 64.06,301.58 64.27,302.56 64.48,303.54 64.7,304.52 64.91,305.49 65.12,306.47 65.33,307.45 65.54,308.43 65.74,309.41 65.95,310.39 66.16,311.36 66.36,312.34 66.57,313.32 66.77,314.3 66.97,315.28 67.18,316.26 67.38,317.24 67.58,318.21 67.78,319.19 67.98,320.17 68.18,321.15 68.38,322.13 68.58,323.11 68.78,324.08 68.98,325.06 69.18,326.04 69.38,327.02 69.58,328 69.77,328.97 69.97,329.95 70.17,330.93 70.37,331.91 70.57,332.88 70.76,333.86 70.96,334.84 71.16,335.81 71.36,336.79 71.55,337.77 71.75,338.74 71.95,339.72 72.15,340.7 72.35,341.67 72.55,342.65 72.74,343.62 72.94,344.6 73.14,345.57 73.34,346.55 73.54,347.52 73.75,348.49 73.95,349.47 74.15,350.44 74.36,351.41 74.56,352.38 74.77,353.36 74.98,354.33 75.19,355.3 75.4,356.27 75.62,357.24 75.83,358.21 76.05,359.18 76.27,360.15 76.49,361.12 76.72,362.09 76.95,363.06 77.18,364.03 77.41,365 77.65,365.96 77.89,366.93 78.14,367.9 78.38,368.86 78.63,369.83 78.89,370.79 79.15,371.76 79.41,372.72 79.68,373.69 79.95,374.65 80.23,375.61 80.51,376.57 80.79,377.54 81.08,378.5 81.37,379.46 81.67,380.42 81.98,381.38 82.28,382.34 82.59,383.3 82.9,384.25 83.22,385.21 83.53,386.17 83.85,387.13 84.17,388.08 84.49,389.04 84.81,390 85.13,390.95 85.46,391.91 85.78,392.86 86.1,393.82 86.42,394.77 86.75,395.73 87.07,396.68 87.38,397.64 87.7,398.59 88.01,399.54 88.32,400.5 88.63,401.45 88.94,402.4 89.24,403.36 89.54,404.31 89.83,405.26 90.12,406.22 90.41,407.17 90.69,408.13 90.96,409.08 91.23,410.03 91.49,410.99 91.75,411.94 92,412.89 92.25,413.85 92.5,414.8 92.75,415.75 93.01,416.7 93.27,417.65 93.54,418.6 93.82,419.55 94.11,420.49 94.41,421.44 94.74,422.38 95.07,423.32 95.42,424.25 95.79,425.18 96.17,426.11 96.56,427.04 96.96,427.96 97.38,428.88 97.82,429.8 98.26,430.71 98.72,431.61 99.18,432.52 99.65,433.41 100.13,434.31 100.61,435.19 101.09,436.08 101.57,436.95 102.06,437.82 102.55,438.69 103.04,439.56 103.54,440.42 104.03,441.28 104.54,442.13 105.04,442.98 105.54,443.83 106.05,444.68 106.56,445.52 107.08,446.37 107.6,447.21 108.12,448.05 108.64,448.89 109.17,449.73 109.69,450.57 110.23,451.41 110.76,452.25 111.3,453.09 111.84,453.94 112.38,454.78 112.93,455.63 113.48,456.48 114.03,457.33 114.59,458.17 115.15,459.02 115.72,459.87 116.29,460.71 116.87,461.55 117.45,462.38 118.05,463.2 118.65,464.02 119.26,464.83 119.88,465.62 120.52,466.41 121.16,467.18 121.81,467.93 122.48,468.67 123.15,469.4 123.84,470.1 124.55,470.79 125.27,471.46 126,472.11 126.75,472.73 127.51,473.34 128.28,473.94 129.07,474.52 129.87,475.09 130.68,475.65 131.5,476.21 132.34,476.75 133.18,477.3 134.03,477.83 134.89,478.36 135.76,478.88 136.64,479.38 137.53,479.86 138.42,480.32 139.32,480.75 140.23,481.15 141.14,481.53 142.06,481.89 142.98,482.22 143.9,482.55 144.83,482.86 145.77,483.17 146.7,483.47 147.64,483.77 148.58,484.09 149.52,484.41 150.46,484.74 151.4,485.09 152.34,485.47 153.28,485.86 154.22,486.27 155.16,486.69 156.1,487.12 157.04,487.55 157.98,487.97 158.92,488.39 159.86,488.8 160.8,489.2 161.74,489.58 162.69,489.94 163.63,490.28 164.57,490.62 165.51,490.93 166.46,491.24 167.41,491.53 168.35,491.82 169.3,492.09 170.25,492.36 171.2,492.62 172.15,492.87 173.11,493.12 174.06,493.35 175.02,493.57 175.98,493.79 176.94,493.98 177.91,494.17 178.87,494.34 179.84,494.5 180.81,494.65 181.78,494.77 182.76,494.89 183.74,494.98 184.72,495.06 185.7,495.12 186.68,495.16 187.67,495.18 188.66,495.2 189.65,495.19 190.64,495.18 191.63,495.17 192.62,495.17 193.61,495.22 194.61,495.33 195.6,495.51 196.59,495.79 197.57,496.12 198.56,496.46 199.55,496.74 200.53,496.94 201.51,497.07 202.49,497.18 203.46,497.29 204.43,497.44 205.4,497.66 206.36,497.94 207.32,498.26 208.28,498.59 209.23,498.9 210.19,499.17 211.14,499.4 212.09,499.61 213.04,499.8 213.99,499.99 214.95,500.18 215.9,500.37 216.85,500.58 217.81,500.79 218.77,501.02 219.73,501.26 220.7,501.51 221.66,501.77 222.63,502.03 223.6,502.3 224.57,502.57 225.54,502.83 226.52,503.09 227.5,503.35 228.48,503.6 229.46,503.84 230.44,504.06 231.42,504.28 232.4,504.47 233.39,504.65 234.38,504.81 235.37,504.94 236.36,505.06 237.35,505.15 238.34,505.23 239.33,505.29 240.33,505.34 241.32,505.39 242.32,505.43 243.31,505.47 244.31,505.51 245.31,505.56 246.31,505.61 247.31,505.68 248.31,505.76 249.31,505.86 250.31,505.98 251.31,506.13" fill="none" stroke="#000" stroke-width="1.2" stroke-linejoin="round" stroke-linecap="round" />
<polyline points="42.45,233.67 43.26,234.28 44.04,234.91 44.78,235.57 45.48,236.26 46.15,236.97 46.8,237.7 47.41,238.46 48,239.24 48.56,240.04 49.1,240.85 49.63,241.69 50.13,242.54 50.61,243.4 51.08,244.28 51.54,245.17 51.98,246.08 52.4,246.99 52.82,247.91 53.22,248.84 53.61,249.77 53.99,250.71 54.36,251.66 54.72,252.6 55.08,253.55 55.43,254.5 55.77,255.44 56.11,256.39 56.43,257.34 56.76,258.29 57.08,259.25 57.39,260.2 57.69,261.15 57.99,262.1 58.29,263.06 58.58,264.01 58.86,264.97 59.14,265.93 59.41,266.88 59.68,267.84 59.95,268.8 60.21,269.76 60.47,270.72 60.72,271.68 60.97,272.64 61.22,273.6 61.46,274.56 61.7,275.53 61.93,276.49 62.17,277.46 62.4,278.42 62.62,279.39 62.85,280.35 63.07,281.32 63.29,282.29 63.51,283.25 63.73,284.22 63.94,285.19 64.15,286.16 64.36,287.13 64.57,288.1 64.78,289.07 64.99,290.04 65.2,291.01 65.41,291.98 65.61,292.96 65.82,293.93 66.02,294.9 66.23,295.88 66.44,296.85 66.64,297.83 66.85,298.8 67.06,299.78 67.27,300.75 67.48,301.73 67.69,302.7 67.9,303.68 68.11,304.66 68.32,305.63 68.54,306.61 68.75,307.59 68.96,308.57 69.18,309.55 69.39,310.53 69.61,311.51 69.82,312.48 70.04,313.46 70.25,314.44 70.46,315.42 70.68,316.4 70.89,317.38 71.1,318.37 71.31,319.35 71.52,320.33 71.73,321.31 71.93,322.29 72.14,323.27 72.35,324.25 72.55,325.23 72.75,326.22 72.95,327.2 73.15,328.18 73.35,329.16 73.54,330.14 73.73,331.13 73.92,332.11 74.11,333.09 74.3,334.07 74.48,335.06 74.66,336.04 74.84,337.02 75.02,338 75.19,338.99 75.37,339.97 75.54,340.95 75.71,341.93 75.88,342.92 76.05,343.9 76.22,344.88 76.4,345.86 76.57,346.84 76.75,347.83 76.93,348.81 77.11,349.79 77.29,350.77 77.48,351.75 77.67,352.73 77.87,353.72 78.06,354.7 78.27,355.68 78.48,356.66 78.69,357.64 78.91,358.62 79.13,359.6 79.36,360.58 79.58,361.56 79.81,362.54 80.04,363.52 80.27,364.5 80.5,365.47 80.73,366.45 80.96,367.43 81.19,368.41 81.41,369.39 81.64,370.36 81.86,371.34 82.08,372.32 82.31,373.29 82.53,374.27 82.75,375.24 82.97,376.22 83.19,377.19 83.41,378.17 83.63,379.14 83.85,380.11 84.07,381.09 84.29,382.06 84.5,383.03 84.72,384 84.94,384.97 85.16,385.94 85.38,386.91 85.6,387.88 85.82,388.85 86.05,389.82 86.27,390.79 86.49,391.76 86.72,392.72 86.94,393.69 87.17,394.66 87.39,395.62 87.62,396.59 87.85,397.55 88.08,398.51 88.32,399.48 88.55,400.44 88.79,401.4 89.03,402.36 89.27,403.32 89.51,404.28 89.76,405.24 90,406.2 90.25,407.16 90.51,408.11 90.76,409.07 91.02,410.03 91.29,410.98 91.55,411.94 91.82,412.89 92.1,413.84 92.37,414.79 92.66,415.74 92.94,416.69 93.23,417.64 93.53,418.59 93.83,419.54 94.13,420.49 94.44,421.43 94.76,422.38 95.08,423.32 95.4,424.27 95.73,425.21 96.07,426.15 96.41,427.09 96.76,428.03 97.12,428.97 97.48,429.91 97.85,430.85 98.22,431.78 98.6,432.72 98.99,433.65 99.38,434.59 99.78,435.52 100.18,436.45 100.59,437.37 101,438.3 101.41,439.22 101.83,440.15 102.26,441.07 102.68,441.98 103.12,442.9 103.55,443.81 103.99,444.72 104.42,445.63 104.87,446.54 105.31,447.44 105.75,448.34 106.2,449.23 106.65,450.12 107.1,451.01 107.55,451.9 108.01,452.78 108.46,453.66 108.92,454.54 109.39,455.41 109.86,456.27 110.34,457.14 110.82,458 111.31,458.85 111.81,459.7 112.31,460.55 112.83,461.39 113.35,462.22 113.89,463.06 114.43,463.88 114.99,464.7 115.56,465.52 116.15,466.33 116.75,467.14 117.36,467.94 117.98,468.73 118.62,469.52 119.28,470.29 119.95,471.06 120.63,471.81 121.32,472.55 122.03,473.28 122.74,473.98 123.47,474.67 124.21,475.33 124.96,475.97 125.72,476.59 126.48,477.18 127.26,477.75 128.04,478.29 128.83,478.83 129.63,479.37 130.44,479.91 131.25,480.45 132.07,481 132.89,481.55 133.72,482.1 134.56,482.64 135.41,483.19 136.26,483.72 137.11,484.26 137.97,484.79 138.84,485.3 139.71,485.81 140.59,486.31 141.48,486.8 142.37,487.27 143.26,487.74 144.16,488.19 145.07,488.63 145.97,489.06 146.88,489.49 147.79,489.9 148.7,490.31 149.61,490.72 150.52,491.12 151.43,491.51 152.34,491.91 153.25,492.29 154.15,492.68 155.05,493.07 155.95,493.45 156.85,493.84 157.75,494.23 158.64,494.62 159.54,495.01 160.43,495.41 161.33,495.81 162.23,496.22 163.13,496.63 164.04,497.05 164.94,497.48 165.85,497.91 166.77,498.36 167.69,498.81 168.62,499.27 169.55,499.73 170.48,500.17 171.42,500.59 172.37,500.98 173.32,501.33 174.27,501.63 175.23,501.89 176.19,502.09 177.15,502.26 178.12,502.41 179.09,502.53 180.07,502.63 181.05,502.72 182.03,502.79 183.01,502.86 184,502.9 184.99,502.94 185.98,502.97 186.97,502.98 187.97,502.99 188.96,502.98 189.96,502.98 190.96,502.96 191.96,502.94 192.97,502.91 193.97,502.88 194.98,502.85 195.98,502.81 196.99,502.77 198,502.73 199,502.7 200.01,502.66 201.02,502.63 202.03,502.6 203.03,502.57 204.04,502.55 205.05,502.53 206.05,502.52 207.05,502.52 208.06,502.53 209.06,502.54 217,503.1" fill="none" stroke="#ff1a1a" stroke-width="1.3" stroke-linejoin="round" stroke-linecap="round" />
<text x="42.7" y="539.8" font-size="11.8" text-anchor="middle" font-weight="normal" textLength="6.8" lengthAdjust="spacingAndGlyphs" stroke="#000" stroke-width="0.2">0</text>
<text x="112.4" y="539.8" font-size="11.8" text-anchor="middle" font-weight="normal" textLength="13.6" lengthAdjust="spacingAndGlyphs" stroke="#000" stroke-width="0.2">10</text>
<text x="182.1" y="539.8" font-size="11.8" text-anchor="middle" font-weight="normal" textLength="13.6" lengthAdjust="spacingAndGlyphs" stroke="#000" stroke-width="0.2">20</text>
<text x="251.8" y="539.8" font-size="11.8" text-anchor="middle" font-weight="normal" textLength="13.6" lengthAdjust="spacingAndGlyphs" stroke="#000" stroke-width="0.2">30</text>
<text x="36.3" y="507.2" font-size="11.8" text-anchor="end" font-weight="normal" textLength="6.8" lengthAdjust="spacingAndGlyphs" stroke="#000" stroke-width="0.2">0</text>
<text x="36.3" y="436.12" font-size="11.8" text-anchor="end" font-weight="normal" textLength="6.8" lengthAdjust="spacingAndGlyphs" stroke="#000" stroke-width="0.2">1</text>
<text x="36.3" y="365.04" font-size="11.8" text-anchor="end" font-weight="normal" textLength="6.8" lengthAdjust="spacingAndGlyphs" stroke="#000" stroke-width="0.2">2</text>
<text x="36.3" y="293.96" font-size="11.8" text-anchor="end" font-weight="normal" textLength="6.8" lengthAdjust="spacingAndGlyphs" stroke="#000" stroke-width="0.2">3</text>
<text x="36.3" y="222.88" font-size="11.8" text-anchor="end" font-weight="normal" textLength="6.8" lengthAdjust="spacingAndGlyphs" stroke="#000" stroke-width="0.2">4</text>
<line x1="349.14" y1="523.6" x2="349.14" y2="520.1" stroke="#0a0a0a" stroke-width="1.2"/>
<line x1="349.14" y1="209.9" x2="349.14" y2="213.4" stroke="#0a0a0a" stroke-width="1.2"/>
<line x1="362.98" y1="523.6" x2="362.98" y2="520.1" stroke="#0a0a0a" stroke-width="1.2"/>
<line x1="362.98" y1="209.9" x2="362.98" y2="213.4" stroke="#0a0a0a" stroke-width="1.2"/>
<line x1="376.82" y1="523.6" x2="376.82" y2="520.1" stroke="#0a0a0a" stroke-width="1.2"/>
<line x1="376.82" y1="209.9" x2="376.82" y2="213.4" stroke="#0a0a0a" stroke-width="1.2"/>
<line x1="390.66" y1="523.6" x2="390.66" y2="520.1" stroke="#0a0a0a" stroke-width="1.2"/>
<line x1="390.66" y1="209.9" x2="390.66" y2="213.4" stroke="#0a0a0a" stroke-width="1.2"/>
<line x1="404.5" y1="523.6" x2="404.5" y2="520.1" stroke="#0a0a0a" stroke-width="1.2"/>
<line x1="404.5" y1="209.9" x2="404.5" y2="213.4" stroke="#0a0a0a" stroke-width="1.2"/>
<line x1="418.34" y1="523.6" x2="418.34" y2="520.1" stroke="#0a0a0a" stroke-width="1.2"/>
<line x1="418.34" y1="209.9" x2="418.34" y2="213.4" stroke="#0a0a0a" stroke-width="1.2"/>
<line x1="432.18" y1="523.6" x2="432.18" y2="520.1" stroke="#0a0a0a" stroke-width="1.2"/>
<line x1="432.18" y1="209.9" x2="432.18" y2="213.4" stroke="#0a0a0a" stroke-width="1.2"/>
<line x1="446.02" y1="523.6" x2="446.02" y2="520.1" stroke="#0a0a0a" stroke-width="1.2"/>
<line x1="446.02" y1="209.9" x2="446.02" y2="213.4" stroke="#0a0a0a" stroke-width="1.2"/>
<line x1="459.86" y1="523.6" x2="459.86" y2="520.1" stroke="#0a0a0a" stroke-width="1.2"/>
<line x1="459.86" y1="209.9" x2="459.86" y2="213.4" stroke="#0a0a0a" stroke-width="1.2"/>
<line x1="473.7" y1="523.6" x2="473.7" y2="520.1" stroke="#0a0a0a" stroke-width="1.2"/>
<line x1="473.7" y1="209.9" x2="473.7" y2="213.4" stroke="#0a0a0a" stroke-width="1.2"/>
<line x1="487.54" y1="523.6" x2="487.54" y2="520.1" stroke="#0a0a0a" stroke-width="1.2"/>
<line x1="487.54" y1="209.9" x2="487.54" y2="213.4" stroke="#0a0a0a" stroke-width="1.2"/>
<line x1="501.38" y1="523.6" x2="501.38" y2="520.1" stroke="#0a0a0a" stroke-width="1.2"/>
<line x1="501.38" y1="209.9" x2="501.38" y2="213.4" stroke="#0a0a0a" stroke-width="1.2"/>
<line x1="515.22" y1="523.6" x2="515.22" y2="520.1" stroke="#0a0a0a" stroke-width="1.2"/>
<line x1="515.22" y1="209.9" x2="515.22" y2="213.4" stroke="#0a0a0a" stroke-width="1.2"/>
<line x1="529.06" y1="523.6" x2="529.06" y2="520.1" stroke="#0a0a0a" stroke-width="1.2"/>
<line x1="529.06" y1="209.9" x2="529.06" y2="213.4" stroke="#0a0a0a" stroke-width="1.2"/>
<line x1="542.9" y1="523.6" x2="542.9" y2="520.1" stroke="#0a0a0a" stroke-width="1.2"/>
<line x1="542.9" y1="209.9" x2="542.9" y2="213.4" stroke="#0a0a0a" stroke-width="1.2"/>
<line x1="335.3" y1="523.6" x2="335.3" y2="517.1" stroke="#0a0a0a" stroke-width="1.2"/>
<line x1="335.3" y1="209.9" x2="335.3" y2="216.4" stroke="#0a0a0a" stroke-width="1.2"/>
<line x1="404.5" y1="523.6" x2="404.5" y2="517.1" stroke="#0a0a0a" stroke-width="1.2"/>
<line x1="404.5" y1="209.9" x2="404.5" y2="216.4" stroke="#0a0a0a" stroke-width="1.2"/>
<line x1="473.7" y1="523.6" x2="473.7" y2="517.1" stroke="#0a0a0a" stroke-width="1.2"/>
<line x1="473.7" y1="209.9" x2="473.7" y2="216.4" stroke="#0a0a0a" stroke-width="1.2"/>
<line x1="542.9" y1="523.6" x2="542.9" y2="517.1" stroke="#0a0a0a" stroke-width="1.2"/>
<line x1="542.9" y1="209.9" x2="542.9" y2="216.4" stroke="#0a0a0a" stroke-width="1.2"/>
<line x1="335.3" y1="517.35" x2="338.8" y2="517.35" stroke="#0a0a0a" stroke-width="1.2"/>
<line x1="543.5" y1="517.35" x2="540" y2="517.35" stroke="#0a0a0a" stroke-width="1.2"/>
<line x1="335.3" y1="502.8" x2="338.8" y2="502.8" stroke="#0a0a0a" stroke-width="1.2"/>
<line x1="543.5" y1="502.8" x2="540" y2="502.8" stroke="#0a0a0a" stroke-width="1.2"/>
<line x1="335.3" y1="488.25" x2="338.8" y2="488.25" stroke="#0a0a0a" stroke-width="1.2"/>
<line x1="543.5" y1="488.25" x2="540" y2="488.25" stroke="#0a0a0a" stroke-width="1.2"/>
<line x1="335.3" y1="473.7" x2="338.8" y2="473.7" stroke="#0a0a0a" stroke-width="1.2"/>
<line x1="543.5" y1="473.7" x2="540" y2="473.7" stroke="#0a0a0a" stroke-width="1.2"/>
<line x1="335.3" y1="459.15" x2="338.8" y2="459.15" stroke="#0a0a0a" stroke-width="1.2"/>
<line x1="543.5" y1="459.15" x2="540" y2="459.15" stroke="#0a0a0a" stroke-width="1.2"/>
<line x1="335.3" y1="444.6" x2="338.8" y2="444.6" stroke="#0a0a0a" stroke-width="1.2"/>
<line x1="543.5" y1="444.6" x2="540" y2="444.6" stroke="#0a0a0a" stroke-width="1.2"/>
<line x1="335.3" y1="430.05" x2="338.8" y2="430.05" stroke="#0a0a0a" stroke-width="1.2"/>
<line x1="543.5" y1="430.05" x2="540" y2="430.05" stroke="#0a0a0a" stroke-width="1.2"/>
<line x1="335.3" y1="415.5" x2="338.8" y2="415.5" stroke="#0a0a0a" stroke-width="1.2"/>
<line x1="543.5" y1="415.5" x2="540" y2="415.5" stroke="#0a0a0a" stroke-width="1.2"/>
<line x1="335.3" y1="400.95" x2="338.8" y2="400.95" stroke="#0a0a0a" stroke-width="1.2"/>
<line x1="543.5" y1="400.95" x2="540" y2="400.95" stroke="#0a0a0a" stroke-width="1.2"/>
<line x1="335.3" y1="386.4" x2="338.8" y2="386.4" stroke="#0a0a0a" stroke-width="1.2"/>
<line x1="543.5" y1="386.4" x2="540" y2="386.4" stroke="#0a0a0a" stroke-width="1.2"/>
<line x1="335.3" y1="371.85" x2="338.8" y2="371.85" stroke="#0a0a0a" stroke-width="1.2"/>
<line x1="543.5" y1="371.85" x2="540" y2="371.85" stroke="#0a0a0a" stroke-width="1.2"/>
<line x1="335.3" y1="357.3" x2="338.8" y2="357.3" stroke="#0a0a0a" stroke-width="1.2"/>
<line x1="543.5" y1="357.3" x2="540" y2="357.3" stroke="#0a0a0a" stroke-width="1.2"/>
<line x1="335.3" y1="342.75" x2="338.8" y2="342.75" stroke="#0a0a0a" stroke-width="1.2"/>
<line x1="543.5" y1="342.75" x2="540" y2="342.75" stroke="#0a0a0a" stroke-width="1.2"/>
<line x1="335.3" y1="328.2" x2="338.8" y2="328.2" stroke="#0a0a0a" stroke-width="1.2"/>
<line x1="543.5" y1="328.2" x2="540" y2="328.2" stroke="#0a0a0a" stroke-width="1.2"/>
<line x1="335.3" y1="313.65" x2="338.8" y2="313.65" stroke="#0a0a0a" stroke-width="1.2"/>
<line x1="543.5" y1="313.65" x2="540" y2="313.65" stroke="#0a0a0a" stroke-width="1.2"/>
<line x1="335.3" y1="299.1" x2="338.8" y2="299.1" stroke="#0a0a0a" stroke-width="1.2"/>
<line x1="543.5" y1="299.1" x2="540" y2="299.1" stroke="#0a0a0a" stroke-width="1.2"/>
<line x1="335.3" y1="284.55" x2="338.8" y2="284.55" stroke="#0a0a0a" stroke-width="1.2"/>
<line x1="543.5" y1="284.55" x2="540" y2="284.55" stroke="#0a0a0a" stroke-width="1.2"/>
<line x1="335.3" y1="270" x2="338.8" y2="270" stroke="#0a0a0a" stroke-width="1.2"/>
<line x1="543.5" y1="270" x2="540" y2="270" stroke="#0a0a0a" stroke-width="1.2"/>
<line x1="335.3" y1="255.45" x2="338.8" y2="255.45" stroke="#0a0a0a" stroke-width="1.2"/>
<line x1="543.5" y1="255.45" x2="540" y2="255.45" stroke="#0a0a0a" stroke-width="1.2"/>
<line x1="335.3" y1="240.9" x2="338.8" y2="240.9" stroke="#0a0a0a" stroke-width="1.2"/>
<line x1="543.5" y1="240.9" x2="540" y2="240.9" stroke="#0a0a0a" stroke-width="1.2"/>
<line x1="335.3" y1="226.35" x2="338.8" y2="226.35" stroke="#0a0a0a" stroke-width="1.2"/>
<line x1="543.5" y1="226.35" x2="540" y2="226.35" stroke="#0a0a0a" stroke-width="1.2"/>
<line x1="335.3" y1="211.8" x2="338.8" y2="211.8" stroke="#0a0a0a" stroke-width="1.2"/>
<line x1="543.5" y1="211.8" x2="540" y2="211.8" stroke="#0a0a0a" stroke-width="1.2"/>
<line x1="335.3" y1="502.8" x2="341.8" y2="502.8" stroke="#0a0a0a" stroke-width="1.2"/>
<line x1="543.5" y1="502.8" x2="537" y2="502.8" stroke="#0a0a0a" stroke-width="1.2"/>
<line x1="335.3" y1="430.05" x2="341.8" y2="430.05" stroke="#0a0a0a" stroke-width="1.2"/>
<line x1="543.5" y1="430.05" x2="537" y2="430.05" stroke="#0a0a0a" stroke-width="1.2"/>
<line x1="335.3" y1="357.3" x2="341.8" y2="357.3" stroke="#0a0a0a" stroke-width="1.2"/>
<line x1="543.5" y1="357.3" x2="537" y2="357.3" stroke="#0a0a0a" stroke-width="1.2"/>
<line x1="335.3" y1="284.55" x2="341.8" y2="284.55" stroke="#0a0a0a" stroke-width="1.2"/>
<line x1="543.5" y1="284.55" x2="537" y2="284.55" stroke="#0a0a0a" stroke-width="1.2"/>
<line x1="335.3" y1="211.8" x2="341.8" y2="211.8" stroke="#0a0a0a" stroke-width="1.2"/>
<line x1="543.5" y1="211.8" x2="537" y2="211.8" stroke="#0a0a0a" stroke-width="1.2"/>
<rect x="335.3" y="209.9" width="208.2" height="313.7" fill="none" stroke="#0a0a0a" stroke-width="1.2"/>
<path d="M335.4,225.8 C335.58,226.52 336.2,228.3 336.5,230.1 C336.8,231.9 337.02,234.78 337.2,236.6 C337.38,238.42 337.42,239.2 337.6,241 C337.78,242.8 338.07,245.07 338.3,247.4 C338.53,249.73 338.98,252.5 339,255 C339.02,257.5 338.28,259.55 338.4,262.4 C338.52,265.25 339.25,269.05 339.7,272.1 C340.15,275.15 340.72,277.58 341.1,280.7 C341.48,283.82 341.67,287.32 342,290.8 C342.33,294.28 342.73,298 343.1,301.6 C343.47,305.2 343.83,308.8 344.2,312.4 C344.57,316 344.92,319.43 345.3,323.2 C345.68,326.97 346.07,331.23 346.5,335 C346.93,338.77 347.47,342.2 347.9,345.8 C348.33,349.4 348.65,353 349.1,356.6 C349.55,360.2 350.12,363.8 350.6,367.4 C351.08,371 351.57,374.6 352,378.2 C352.43,381.8 352.85,385.23 353.2,389 C353.55,392.77 353.73,397.03 354.1,400.8 C354.47,404.57 354.93,408 355.4,411.6 C355.87,415.2 356.37,418.8 356.9,422.4 C357.43,426 358.05,430.27 358.6,433.2 C359.15,436.13 359.65,437.4 360.2,440 C360.75,442.6 361.18,446.07 361.9,448.8 C362.62,451.53 363.55,453.87 364.5,456.4 C365.45,458.93 366.45,461.27 367.6,464 C368.75,466.73 370.13,469.87 371.4,472.8 C372.67,475.73 374.15,478.98 375.2,481.6 C376.25,484.22 376.77,486.72 377.7,488.5 C378.63,490.28 379.75,491.57 380.8,492.3 C381.85,493.03 382.63,492.48 384,492.9 C385.37,493.32 387.32,494.05 389,494.8 C390.68,495.55 392.62,496.45 394.1,497.4 C395.58,498.35 396.75,499.67 397.9,500.5 C399.05,501.33 399.95,502.4 401,502.4 C402.05,502.4 403.05,501.33 404.2,500.5 C405.35,499.67 406.93,498.07 407.9,497.4 C408.87,496.73 409.23,496.75 410,496.5 C410.77,496.25 411.55,496.15 412.5,495.9 C413.45,495.65 414.73,495.07 415.7,495 C416.67,494.93 417.45,495.13 418.3,495.5 C419.15,495.87 419.97,496.6 420.8,497.2 C421.63,497.8 422.57,498.58 423.3,499.1 C424.03,499.62 424.55,499.98 425.2,500.3 C425.85,500.62 426.55,500.47 427.2,501 C427.85,501.53 428.47,502.67 429.1,503.5 C429.73,504.33 430.37,505.15 431,506 C431.63,506.85 432.27,508.02 432.9,508.6 C433.53,509.18 434.07,509.57 434.8,509.5 C435.53,509.43 436.45,508.78 437.3,508.2 C438.15,507.62 439.15,506.47 439.9,506 C440.65,505.53 441.17,505.4 441.8,505.4 C442.43,505.4 443.07,506.22 443.7,506 C444.33,505.78 444.97,505.05 445.6,504.1 C446.23,503.15 446.87,501.1 447.5,500.3 C448.13,499.5 448.67,499.55 449.4,499.3 C450.13,499.05 451.05,498.83 451.9,498.8 C452.75,498.77 453.65,498.95 454.5,499.1 C455.35,499.25 456.17,499.53 457,499.7 C457.83,499.87 458.65,500.03 459.5,500.1 C460.35,500.17 461.25,500.07 462.1,500.1 C462.95,500.13 463.87,499.95 464.6,500.3 C465.33,500.65 465.87,501.73 466.5,502.2 C467.13,502.67 467.87,503.1 468.4,503.1 C468.93,503.1 469.27,502.45 469.7,502.2 C470.13,501.95 470.57,501.28 471,501.6 C471.43,501.92 471.88,503.57 472.3,504.1 C472.72,504.63 473.08,504.9 473.5,504.8 C473.92,504.7 474.37,503.72 474.8,503.5 C475.23,503.28 475.65,503.4 476.1,503.5 C476.55,503.6 476.95,504.32 477.5,504.1 C478.05,503.88 478.75,502.83 479.4,502.2 C480.05,501.57 480.75,500.4 481.4,500.3 C482.05,500.2 482.57,501.22 483.3,501.6 C484.03,501.98 484.85,502.35 485.8,502.6 C486.75,502.85 487.93,502.88 489,503.1 C490.07,503.32 491.25,503.93 492.2,503.9 C493.15,503.87 493.87,502.75 494.7,502.9 C495.53,503.05 496.35,504.85 497.2,504.8 C498.05,504.75 498.83,503.3 499.8,502.6 C500.77,501.9 501.83,501.3 503,500.6 C504.17,499.9 505.75,498.45 506.8,498.4 C507.85,498.35 508.47,499.55 509.3,500.3 C510.13,501.05 510.85,502.05 511.8,502.9 C512.75,503.75 513.93,504.55 515,505.4 C516.07,506.25 517.25,507.47 518.2,508 C519.15,508.53 519.75,508.43 520.7,508.6 C521.65,508.77 523.05,509.32 523.9,509 C524.75,508.68 525.05,507.62 525.8,506.7 C526.55,505.78 527.45,504.13 528.4,503.5 C529.35,502.87 530.45,503.05 531.5,502.9 C532.55,502.75 533.73,502.57 534.7,502.6 C535.67,502.63 536.45,502.95 537.3,503.1 C538.15,503.25 538.85,503.48 539.8,503.5 C540.75,503.52 542.47,503.25 543,503.2" fill="none" stroke="#000" stroke-width="1.2" stroke-linejoin="round" stroke-linecap="round" />
<path d="M335.2,238.8 C335.35,239.88 335.77,243.27 336.1,245.3 C336.43,247.33 336.82,248.15 337.2,251 C337.58,253.85 337.98,258.88 338.4,262.4 C338.82,265.92 339.25,269.05 339.7,272.1 C340.15,275.15 340.72,277.58 341.1,280.7 C341.48,283.82 341.67,287.32 342,290.8 C342.33,294.28 342.73,298 343.1,301.6 C343.47,305.2 343.83,308.8 344.2,312.4 C344.57,316 344.92,319.43 345.3,323.2 C345.68,326.97 346.12,331.23 346.5,335 C346.88,338.77 347.22,342.2 347.6,345.8 C347.98,349.4 348.35,353 348.8,356.6 C349.25,360.2 349.82,363.8 350.3,367.4 C350.78,371 351.27,374.6 351.7,378.2 C352.13,381.8 352.55,385.23 352.9,389 C353.25,392.77 353.42,397.03 353.8,400.8 C354.18,404.57 354.72,408 355.2,411.6 C355.68,415.2 356.17,418.8 356.7,422.4 C357.23,426 357.95,430.27 358.4,433.2 C358.85,436.13 358.92,437.18 359.4,440 C359.88,442.82 360.57,446.53 361.3,450.1 C362.03,453.67 362.85,458.03 363.8,461.4 C364.75,464.77 365.83,467.57 367,470.3 C368.17,473.03 369.43,475.4 370.8,477.8 C372.17,480.2 373.63,482.7 375.2,484.7 C376.77,486.7 378.52,488.43 380.2,489.8 C381.88,491.17 383.4,491.95 385.3,492.9 C387.2,493.85 389.5,494.75 391.6,495.5 C393.7,496.25 395.6,496.78 397.9,497.4 C400.2,498.02 403.38,498.82 405.4,499.2 C407.42,499.58 407.12,499.4 410,499.7 C412.88,500 418.47,500.63 422.7,501 C426.93,501.37 431.17,501.65 435.4,501.9 C439.63,502.15 443.87,502.33 448.1,502.5 C452.33,502.67 456.98,502.8 460.8,502.9 C464.62,503 462.92,503.07 471,503.1 C479.08,503.13 502.92,503.1 509.3,503.1" fill="none" stroke="#ff0000" stroke-width="1.25" stroke-linejoin="round" stroke-linecap="round" />
<text x="335.6" y="539.8" font-size="11.8" text-anchor="middle" font-weight="normal" textLength="6.8" lengthAdjust="spacingAndGlyphs" stroke="#000" stroke-width="0.2">0</text>
<text x="404.8" y="539.8" font-size="11.8" text-anchor="middle" font-weight="normal" textLength="13.6" lengthAdjust="spacingAndGlyphs" stroke="#000" stroke-width="0.2">10</text>
<text x="474" y="539.8" font-size="11.8" text-anchor="middle" font-weight="normal" textLength="13.6" lengthAdjust="spacingAndGlyphs" stroke="#000" stroke-width="0.2">20</text>
<text x="543.2" y="539.8" font-size="11.8" text-anchor="middle" font-weight="normal" textLength="13.6" lengthAdjust="spacingAndGlyphs" stroke="#000" stroke-width="0.2">30</text>
<text x="329.2" y="506.8" font-size="11.8" text-anchor="end" font-weight="normal" textLength="6.8" lengthAdjust="spacingAndGlyphs" stroke="#000" stroke-width="0.2">0</text>
<text x="329.2" y="434.05" font-size="11.8" text-anchor="end" font-weight="normal" textLength="6.8" lengthAdjust="spacingAndGlyphs" stroke="#000" stroke-width="0.2">5</text>
<text x="329.2" y="361.3" font-size="11.8" text-anchor="end" font-weight="normal" textLength="13.6" lengthAdjust="spacingAndGlyphs" stroke="#000" stroke-width="0.2">10</text>
<text x="329.2" y="288.55" font-size="11.8" text-anchor="end" font-weight="normal" textLength="13.6" lengthAdjust="spacingAndGlyphs" stroke="#000" stroke-width="0.2">15</text>
<text x="329.2" y="215.8" font-size="11.8" text-anchor="end" font-weight="normal" textLength="13.6" lengthAdjust="spacingAndGlyphs" stroke="#000" stroke-width="0.2">20</text>
<text x="190.75" y="24.2" font-size="11.6" text-anchor="start" font-weight="normal" textLength="15.3" lengthAdjust="spacingAndGlyphs" stroke="#000" stroke-width="0.15">CO</text>
<text x="212.85" y="24.2" font-size="11.6" text-anchor="start" font-weight="normal" textLength="21.7" lengthAdjust="spacingAndGlyphs" stroke="#000" stroke-width="0.15">1&#8722;0</text>
<text x="185.95" y="36.5" font-size="11.6" text-anchor="start" font-weight="normal" textLength="27.8" lengthAdjust="spacingAndGlyphs" stroke="#000" stroke-width="0.15">IRAM</text>
<text x="219.45" y="36.5" font-size="11.6" text-anchor="start" font-weight="normal" textLength="25.5" lengthAdjust="spacingAndGlyphs" stroke="#000" stroke-width="0.15">30m</text>
<text x="483.75" y="24.2" font-size="11.6" text-anchor="start" font-weight="normal" textLength="15.6" lengthAdjust="spacingAndGlyphs" stroke="#000" stroke-width="0.15">CO</text>
<text x="505.45" y="24.2" font-size="11.6" text-anchor="start" font-weight="normal" textLength="22.2" lengthAdjust="spacingAndGlyphs" stroke="#000" stroke-width="0.15">2&#8722;1</text>
<text x="468.65" y="36.5" font-size="11.6" text-anchor="start" font-weight="normal" textLength="28.4" lengthAdjust="spacingAndGlyphs" stroke="#000" stroke-width="0.15">IRAM</text>
<text x="502.65" y="36.5" font-size="11.6" text-anchor="start" font-weight="normal" textLength="26.4" lengthAdjust="spacingAndGlyphs" stroke="#000" stroke-width="0.15">30m</text>
<text x="190.55" y="233.5" font-size="11.6" text-anchor="start" font-weight="normal" textLength="15.3" lengthAdjust="spacingAndGlyphs" stroke="#000" stroke-width="0.15">CO</text>
<text x="212.65" y="233.5" font-size="11.6" text-anchor="start" font-weight="normal" textLength="22.8" lengthAdjust="spacingAndGlyphs" stroke="#000" stroke-width="0.15">1&#8722;0</text>
<text x="208.15" y="246" font-size="11.6" text-anchor="start" font-weight="normal" textLength="27.8" lengthAdjust="spacingAndGlyphs" stroke="#000" stroke-width="0.15">PdBI</text>
<text x="483.85" y="233.5" font-size="11.6" text-anchor="start" font-weight="normal" textLength="15.4" lengthAdjust="spacingAndGlyphs" stroke="#000" stroke-width="0.15">CO</text>
<text x="505.45" y="233.5" font-size="11.6" text-anchor="start" font-weight="normal" textLength="22.6" lengthAdjust="spacingAndGlyphs" stroke="#000" stroke-width="0.15">2&#8722;1</text>
<text x="501.55" y="246" font-size="11.6" text-anchor="start" font-weight="normal" textLength="27.7" lengthAdjust="spacingAndGlyphs" stroke="#000" stroke-width="0.15">PdBI</text>
<text x="112" y="197.4" font-size="13.5" text-anchor="start" font-weight="normal" textLength="5.6" lengthAdjust="spacingAndGlyphs" stroke="#000" stroke-width="0.15">v</text>
<text x="117.9" y="200" font-size="7.9" text-anchor="start" font-weight="bold" textLength="15.8" lengthAdjust="spacingAndGlyphs" stroke="#000" stroke-width="0.15">LSR</text>
<text x="138.8" y="197.4" font-size="13.5" text-anchor="start" font-weight="normal" textLength="42.6" lengthAdjust="spacingAndGlyphs" stroke="#000" stroke-width="0.15">(km/s)</text>
<text x="404.2" y="197.4" font-size="13.5" text-anchor="start" font-weight="normal" textLength="5.6" lengthAdjust="spacingAndGlyphs" stroke="#000" stroke-width="0.15">v</text>
<text x="410.1" y="200" font-size="7.9" text-anchor="start" font-weight="bold" textLength="15.8" lengthAdjust="spacingAndGlyphs" stroke="#000" stroke-width="0.15">LSR</text>
<text x="431" y="197.4" font-size="13.5" text-anchor="start" font-weight="normal" textLength="42.6" lengthAdjust="spacingAndGlyphs" stroke="#000" stroke-width="0.15">(km/s)</text>
<text x="116.1" y="552.2" font-size="13" text-anchor="start" font-weight="normal" textLength="40" lengthAdjust="spacingAndGlyphs" stroke="#000" stroke-width="0.35">Radius</text>
<text x="162.4" y="552.2" font-size="13" text-anchor="start" font-weight="normal" textLength="14.6" lengthAdjust="spacingAndGlyphs" stroke="#000" stroke-width="0.35">(&#8243;)</text>
<text x="408.6" y="552.2" font-size="13" text-anchor="start" font-weight="normal" textLength="40.6" lengthAdjust="spacingAndGlyphs" stroke="#000" stroke-width="0.35">Radius</text>
<text x="455.6" y="552.2" font-size="13" text-anchor="start" font-weight="normal" textLength="14.6" lengthAdjust="spacingAndGlyphs" stroke="#000" stroke-width="0.35">(&#8243;)</text>
<text transform="translate(8.5,104.7) rotate(-90)" x="-0.4" y="0" font-size="13" font-weight="normal" textLength="7.3" lengthAdjust="spacingAndGlyphs" stroke="#000" stroke-width="0.15">T</text>
<text transform="translate(8.5,97.7) rotate(-90)" x="-0.4" y="3.2" font-size="8.5" font-weight="bold" textLength="4.6" lengthAdjust="spacingAndGlyphs" stroke="#000" stroke-width="0.15">a</text>
<text transform="translate(8.5,92.8) rotate(-90)" x="-0.4" y="0.8" font-size="13" font-weight="normal" textLength="5.1" lengthAdjust="spacingAndGlyphs" stroke="#000" stroke-width="0.15">*</text>
<text transform="translate(8.5,81) rotate(-90)" x="-0.4" y="0" font-size="13" font-weight="normal" textLength="17.6" lengthAdjust="spacingAndGlyphs" stroke="#000" stroke-width="0.15">(K)</text>
<text transform="translate(278.2,104.7) rotate(-90)" x="-0.4" y="0" font-size="13" font-weight="normal" textLength="7.3" lengthAdjust="spacingAndGlyphs" stroke="#000" stroke-width="0.15">T</text>
<text transform="translate(278.2,97.7) rotate(-90)" x="-0.4" y="3.2" font-size="8.5" font-weight="bold" textLength="4.6" lengthAdjust="spacingAndGlyphs" stroke="#000" stroke-width="0.15">a</text>
<text transform="translate(278.2,92.8) rotate(-90)" x="-0.4" y="0.8" font-size="13" font-weight="normal" textLength="5.1" lengthAdjust="spacingAndGlyphs" stroke="#000" stroke-width="0.15">*</text>
<text transform="translate(278.2,81) rotate(-90)" x="-0.4" y="0" font-size="13" font-weight="normal" textLength="17.6" lengthAdjust="spacingAndGlyphs" stroke="#000" stroke-width="0.15">(K)</text>
<text transform="translate(8.6,388.9) rotate(-90)" x="-0.4" y="0" font-size="13" font-weight="normal" textLength="7.7" lengthAdjust="spacingAndGlyphs" stroke="#000" stroke-width="0.15">T</text>
<text transform="translate(8.6,381.6) rotate(-90)" x="-0.4" y="3.2" font-size="8.5" font-weight="bold" textLength="13.4" lengthAdjust="spacingAndGlyphs" stroke="#000" stroke-width="0.15">mb</text>
<text transform="translate(8.6,361.6) rotate(-90)" x="-0.4" y="0" font-size="13" font-weight="normal" textLength="17.1" lengthAdjust="spacingAndGlyphs" stroke="#000" stroke-width="0.15">(K)</text>
<text transform="translate(277.6,388.9) rotate(-90)" x="-0.4" y="0" font-size="13" font-weight="normal" textLength="7.7" lengthAdjust="spacingAndGlyphs" stroke="#000" stroke-width="0.15">T</text>
<text transform="translate(277.6,381.6) rotate(-90)" x="-0.4" y="3.2" font-size="8.5" font-weight="bold" textLength="13.4" lengthAdjust="spacingAndGlyphs" stroke="#000" stroke-width="0.15">mb</text>
<text transform="translate(277.6,361.6) rotate(-90)" x="-0.4" y="0" font-size="13" font-weight="normal" textLength="17.1" lengthAdjust="spacingAndGlyphs" stroke="#000" stroke-width="0.15">(K)</text>
</svg>
</body></html>
